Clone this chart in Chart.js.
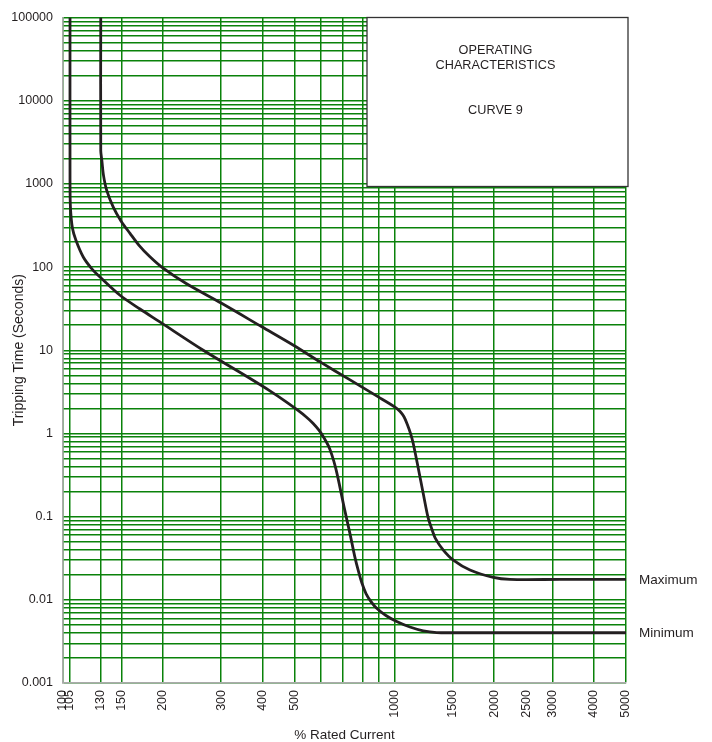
<!DOCTYPE html>
<html>
<head>
<meta charset="utf-8">
<script src="https://cdn.jsdelivr.net/npm/chart.js@4"></script>
<style>
  html, body { margin: 0; padding: 0; background: #fff; }
  #wrap { width: 712px; height: 742px; }
</style>
</head>
<body>
<div id="wrap"><canvas id="curveChart" width="712" height="742"></canvas></div>
<script>
// Werte (Strom in %, Zeit in s)
const maxCurrent = [130, 130, 131, 132.5, 135.5, 141.8, 149.6, 159.3, 169.6, 183, 198.6, 236, 301, 398, 496, 597, 735, 894, 957, 1004, 1039, 1069, 1095, 1118, 1140, 1181, 1222, 1263, 1296, 1331, 1405, 1506, 1691, 1988, 2233, 3160, 5000];
const maxTime    = [100000, 2500, 1916, 1265, 835, 526, 359, 254, 182.5, 132.8, 100, 62.9, 36.7, 19.15, 11.48, 7.24, 4.4, 2.75, 2.34, 2.07, 1.85, 1.589, 1.274, 1.007, 0.757, 0.379, 0.19, 0.0986, 0.0718, 0.0544, 0.0396, 0.03, 0.0228, 0.0186, 0.0176, 0.0176, 0.0176];

const minCurrent = [105, 105, 105.3, 106.8, 109.4, 115.1, 121.5, 129.3, 148.6, 170.7, 196, 265, 367, 421, 468, 512, 541, 568, 592, 613, 633, 648, 664, 681, 705, 735, 760, 779, 798, 821, 850, 886, 943, 1016, 1114, 1222, 1342, 1524, 5000];
const minTime    = [100000, 1102, 526, 292, 210, 132, 98, 75.9, 45.8, 31.3, 21.9, 10, 4.57, 3.25, 2.45, 1.892, 1.589, 1.328, 1.094, 0.889, 0.703, 0.548, 0.393, 0.253, 0.13, 0.0616, 0.0326, 0.0221, 0.0159, 0.0119, 0.00953, 0.00785, 0.00647, 0.00548, 0.00471, 0.00424, 0.00404, 0.00402, 0.00402];

// Achsen
const xGridValues = [100, 105, 130, 150, 200, 300, 400, 500, 600, 700, 800, 900, 1000, 1500, 2000, 2500, 3000, 4000, 5000];
const xTickLabels = [100, 105, 130, 150, 200, 300, 400, 500, 1000, 1500, 2000, 2500, 3000, 4000, 5000];
const yDecades = [0.001, 0.01, 0.1, 1, 10, 100, 1000, 10000];
const yMantissa = [1, 2, 3, 4, 5, 6, 7, 8, 9];
const yTickLabels = ['0.001', '0.01', '0.1', '1', '10', '100', '1000', '10000', '100000'];

const yGridValues = [];
yDecades.forEach(d => yMantissa.forEach(m => yGridValues.push(+(d * m).toPrecision(3))));
yGridValues.push(100000);

const gruen = '#0a820a';
const schrift = 'Liberation Sans, Arial, Helvetica, sans-serif';
const textFarbe = '#231f20';

const toPoints = (xs, ys) => xs.map((x, i) => ({ x: x, y: ys[i] }));

const beschriftung = {
  id: 'beschriftung',
  afterDraw(chart) {
    const { ctx, chartArea, scales } = chart;
    ctx.save();
    // Kasten oben rechts
    const bx = chartArea.right - 259, by = chartArea.top, bw = 261, bh = 169;
    ctx.fillStyle = '#fff';
    ctx.fillRect(bx, by, bw, bh);
    ctx.strokeStyle = '#333';
    ctx.lineWidth = 1.3;
    ctx.strokeRect(bx, by, bw, bh);
    ctx.fillStyle = textFarbe;
    ctx.font = '12.7px ' + schrift;
    ctx.textAlign = 'center';
    ctx.textBaseline = 'middle';
    const cx = bx + bw / 2 - 2;
    ctx.fillText('OPERATING', cx, by + 33);
    ctx.fillText('CHARACTERISTICS', cx, by + 47.5);
    ctx.fillText('CURVE 9', cx, by + 93);
    // Kurvennamen rechts
    ctx.font = '13.5px ' + schrift;
    ctx.textAlign = 'left';
    ctx.fillText('Maximum', chartArea.right + 13, scales.y.getPixelForValue(maxTime[maxTime.length - 1]) + 1);
    ctx.fillText('Minimum', chartArea.right + 13, scales.y.getPixelForValue(minTime[minTime.length - 1]) + 1);
    ctx.restore();
  }
};

new Chart(document.getElementById('curveChart'), {
  type: 'scatter',
  data: {
    datasets: [
      { label: 'Maximum', data: toPoints(maxCurrent, maxTime) },
      { label: 'Minimum', data: toPoints(minCurrent, minTime) }
    ]
  },
  options: {
    responsive: false,
    animation: false,
    showLine: true,
    layout: { padding: { top: 17, right: 86, left: 0, bottom: 0 } },
    elements: {
      point: { radius: 0 },
      line: { borderColor: textFarbe, borderWidth: 2.8, tension: 0.3, fill: false }
    },
    plugins: { legend: { display: false }, tooltip: { enabled: false } },
    scales: {
      x: {
        type: 'logarithmic',
        min: 100,
        max: 5000,
        afterBuildTicks: s => { s.ticks = xGridValues.map(v => ({ value: v })); },
        afterFit: s => { s.height = 59; },
        grid: {
          color: c => (c.tick && c.tick.value === 2500) ? 'rgba(0,0,0,0)' : gruen,
          lineWidth: 1.5,
          drawTicks: false
        },
        border: { color: '#aaa', width: 1.5 },
        ticks: {
          autoSkip: false,
          minRotation: 90,
          maxRotation: 90,
          padding: 7,
          color: textFarbe,
          font: { family: schrift, size: 12.5 },
          callback: v => xTickLabels.includes(v) ? String(v) : ''
        },
        title: {
          display: true,
          text: '% Rated Current',
          color: textFarbe,
          font: { family: schrift, size: 13.5, lineHeight: 1 },
          padding: { top: 0, bottom: 0 }
        }
      },
      y: {
        type: 'logarithmic',
        min: 0.001,
        max: 100000,
        afterBuildTicks: s => { s.ticks = yGridValues.map(v => ({ value: v })); },
        afterFit: s => { s.width = 63; },
        grid: { color: gruen, lineWidth: 1.5, drawTicks: false },
        border: { color: '#aaa', width: 1.5 },
        ticks: {
          autoSkip: false,
          padding: 10,
          color: textFarbe,
          font: { family: schrift, size: 12.5 },
          callback: v => {
            const lbl = yTickLabels.find(t => Math.abs(parseFloat(t) - v) < 1e-9);
            return lbl || '';
          }
        },
        title: {
          display: true,
          text: 'Tripping Time (Seconds)',
          color: textFarbe,
          font: { family: schrift, size: 14, lineHeight: 1 },
          padding: { top: 12.5, bottom: 0 }
        }
      }
    }
  },
  plugins: [beschriftung]
});
</script>
</body>
</html>
